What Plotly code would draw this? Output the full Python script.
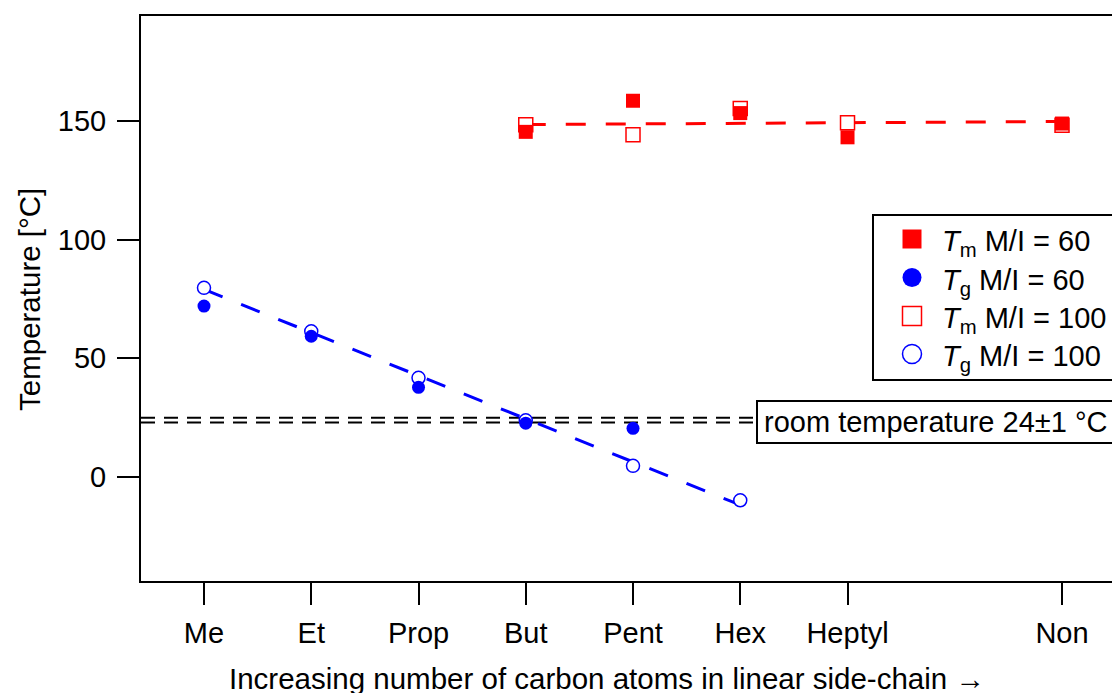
import numpy as np
import plotly.graph_objects as go

# Side-chain series (number of carbon atoms) and their tick labels
carbons = [1, 2, 3, 4, 5, 6, 7, 9]
chain_names = ["Me", "Et", "Prop", "But", "Pent", "Hex", "Heptyl", "Non"]

# Melting temperatures (°C)
tm_carbons = [4, 5, 6, 7, 9]
tm_mi60 = [145.4, 158.5, 153.3, 143.1, 148.9]
tm_mi100 = [148.4, 144.2, 155.2, 149.2, 148.2]

# Glass transition temperatures (°C)
tg60_carbons = [1, 2, 3, 4, 5]
tg_mi60 = [72.0, 59.3, 37.8, 22.7, 20.5]
tg100_carbons = [1, 2, 3, 4, 5, 6]
tg_mi100 = [79.7, 61.4, 41.8, 23.9, 4.7, -9.8]

# Room temperature band 24 ± 1 °C
room_temp = [23, 25]

legend_labels = [
    "<i>T</i><sub>m</sub> M/I = 60",
    "<i>T</i><sub>g</sub> M/I = 60",
    "<i>T</i><sub>m</sub> M/I = 100",
    "<i>T</i><sub>g</sub> M/I = 100",
]

RED = "#ff0000"
BLUE = "#0000ff"
FONT = "Liberation Sans, Arial, sans-serif"
FS = 29
FS_TITLE = 29.5

W, H = 1112, 693
ML, MR, MT, MB = 141, 0, 16, 112
X_RANGE = [0.4126, 9.466]
Y_RANGE = [-43.8, 194.2]

pw = W - ML - MR
ph = H - MT - MB


def px_to_paper_x(px):
    return (px - ML) / pw


def px_to_paper_y(py):
    return (H - MB - py) / ph


fig = go.Figure()

# Room-temperature reference lines
for t in room_temp:
    fig.add_trace(go.Scatter(
        x=X_RANGE, y=[t, t], mode="lines",
        line=dict(color="black", width=2, dash="14px,9px"),
        showlegend=False, hoverinfo="skip"))

# Linear fits through the M/I = 100 data
tg_fit = np.polyfit(tg100_carbons, tg_mi100, 1)
tg_fit_x = [tg100_carbons[0], tg100_carbons[-1]]
fig.add_trace(go.Scatter(
    x=tg_fit_x, y=np.polyval(tg_fit, tg_fit_x), mode="lines",
    line=dict(color=BLUE, width=3, dash="20px,20px"),
    showlegend=False, hoverinfo="skip"))

tm_fit = np.polyfit(tm_carbons, tm_mi100, 1)
tm_fit_x = [tm_carbons[0], tm_carbons[-1]]
fig.add_trace(go.Scatter(
    x=tm_fit_x, y=np.polyval(tm_fit, tm_fit_x), mode="lines",
    line=dict(color=RED, width=3, dash="20px,20px"),
    showlegend=False, hoverinfo="skip"))

# Open markers (M/I = 100)
fig.add_trace(go.Scatter(
    x=tm_carbons, y=tm_mi100, mode="markers", name="Tm M/I = 100",
    marker=dict(symbol="square", size=14, color="white",
                line=dict(color=RED, width=1.5)),
    showlegend=False))
fig.add_trace(go.Scatter(
    x=tg100_carbons, y=tg_mi100, mode="markers", name="Tg M/I = 100",
    marker=dict(symbol="circle", size=13, color="white",
                line=dict(color=BLUE, width=1.5)),
    showlegend=False))

# Filled markers (M/I = 60)
fig.add_trace(go.Scatter(
    x=tm_carbons, y=tm_mi60, mode="markers", name="Tm M/I = 60",
    marker=dict(symbol="square", size=14, color=RED, line=dict(width=0)),
    showlegend=False))
fig.add_trace(go.Scatter(
    x=tg60_carbons, y=tg_mi60, mode="markers", name="Tg M/I = 60",
    marker=dict(symbol="circle", size=13, color=BLUE, line=dict(width=0)),
    showlegend=False))

shapes = []
annotations = []

# Room temperature label box
shapes.append(dict(
    type="rect", xref="paper", yref="paper", layer="above",
    x0=px_to_paper_x(757), x1=px_to_paper_x(1125),
    y0=px_to_paper_y(443), y1=px_to_paper_y(401),
    line=dict(color="black", width=2), fillcolor="white"))
annotations.append(dict(
    xref="paper", yref="paper", x=px_to_paper_x(762), y=px_to_paper_y(422),
    xanchor="left", yanchor="middle", showarrow=False,
    text="room temperature 24±1 °C",
    font=dict(family=FONT, size=FS, color="black")))

# Legend box
shapes.append(dict(
    type="rect", xref="paper", yref="paper", layer="above",
    x0=px_to_paper_x(873), x1=px_to_paper_x(1125),
    y0=px_to_paper_y(380), y1=px_to_paper_y(215),
    line=dict(color="black", width=2), fillcolor="white"))

legend_rows = [239, 277.5, 316, 354]
legend_styles = [
    ("rect", RED, RED, 0),
    ("circle", BLUE, BLUE, 0),
    ("rect", "white", RED, 1.5),
    ("circle", "white", BLUE, 1.5),
]
sym_x = px_to_paper_x(912)
for row_y, (kind, fill, edge, lw), label in zip(legend_rows, legend_styles, legend_labels):
    half = 9.5
    shapes.append(dict(
        type=kind, xref="paper", yref="paper", layer="above",
        xsizemode="pixel", ysizemode="pixel",
        xanchor=sym_x, yanchor=px_to_paper_y(row_y),
        x0=-half, x1=half, y0=-half, y1=half,
        fillcolor=fill, line=dict(color=edge, width=lw)))
    annotations.append(dict(
        xref="paper", yref="paper", x=px_to_paper_x(940), y=px_to_paper_y(row_y + 4),
        xanchor="left", yanchor="middle", showarrow=False, text=label,
        font=dict(family=FONT, size=FS, color="black")))

# Axis titles
annotations.append(dict(
    xref="paper", yref="paper", x=px_to_paper_x(607), y=px_to_paper_y(678),
    xanchor="center", yanchor="middle", showarrow=False,
    text="Increasing number of carbon atoms in linear side-chain →",
    font=dict(family=FONT, size=FS_TITLE, color="black")))
annotations.append(dict(
    xref="paper", yref="paper", x=px_to_paper_x(30), y=px_to_paper_y(300),
    xanchor="center", yanchor="middle", showarrow=False, textangle=-90,
    text="Temperature [°C]",
    font=dict(family=FONT, size=FS_TITLE, color="black")))

fig.update_layout(
    width=W, height=H,
    margin=dict(l=ML, r=MR, t=MT, b=MB, pad=0),
    paper_bgcolor="white", plot_bgcolor="white",
    font=dict(family=FONT, size=FS, color="black"),
    showlegend=False,
    shapes=shapes, annotations=annotations,
    xaxis=dict(
        range=X_RANGE, tickmode="array", tickvals=carbons, ticktext=chain_names,
        ticks="outside", ticklen=22, tickwidth=2, tickcolor="black",
        showline=True, linewidth=2, linecolor="black", mirror=True,
        showgrid=False, zeroline=False, ticklabelstandoff=3,
        tickfont=dict(family=FONT, size=FS, color="black")),
    yaxis=dict(
        range=Y_RANGE, tickmode="array", tickvals=[0, 50, 100, 150],
        ticks="outside", ticklen=22, tickwidth=2, tickcolor="black",
        showline=True, linewidth=2, linecolor="black", mirror=False,
        showgrid=False, zeroline=False, ticklabelstandoff=5,
        tickfont=dict(family=FONT, size=FS, color="black")),
)

fig.write_html("out.html")
